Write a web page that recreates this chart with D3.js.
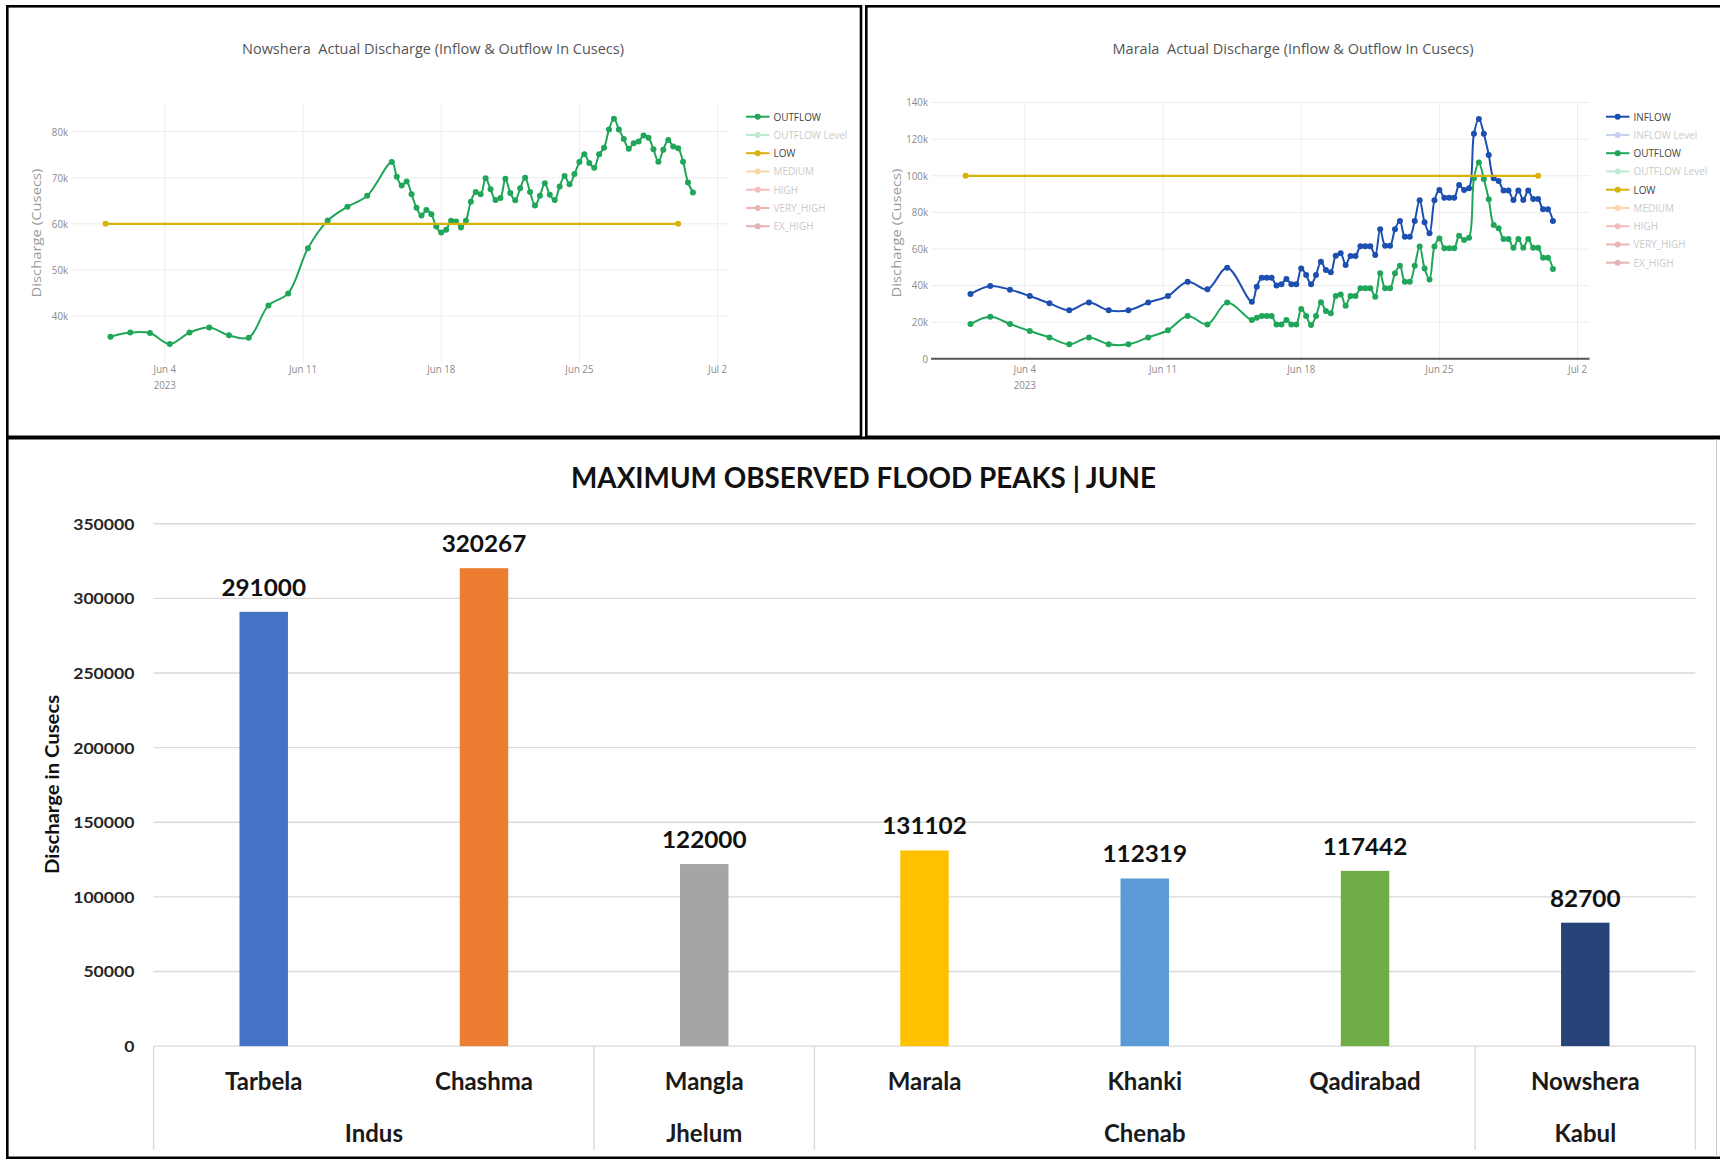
<!DOCTYPE html>
<html><head><meta charset="utf-8">
<script src="https://cdn.jsdelivr.net/npm/d3@7"></script>
<style>body{margin:0;background:#fff}svg{display:block}</style>
</head><body>
<svg id="c" width="1720" height="1160"></svg>
<script>
// ---------------- DATA ----------------
const xTickDates = ["2023-06-04T00:00:00Z","2023-06-11T00:00:00Z","2023-06-18T00:00:00Z","2023-06-25T00:00:00Z","2023-07-02T00:00:00Z"];
const xTickLabels = ["Jun 4","Jun 11","Jun 18","Jun 25","Jul 2"];
const dailyStart = "2023-06-01T06:00:00Z";   // one reading per day, Jun 1 – Jun 14
const sixHourStart = "2023-06-15T12:00:00Z"; // readings every 6 hours from Jun 15 12:00
const lowStart = "2023-06-01T00:00:00Z";
const lowEnd = "2023-06-30T00:00:00Z";

const nowsheraTitle = "Nowshera  Actual Discharge (Inflow & Outflow In Cusecs)";
const nowsheraYTicks = [40000, 50000, 60000, 70000, 80000];
const nowsheraLow = 60000;
const nowsheraOutflowDaily = [35500, 36400, 36300, 33900, 36400, 37500, 35800, 35300, 42300, 44900, 54700, 60700, 63700, 66100];
const nowsheraOutflow6h = [73400, 70200, 68300, 69200, 66400, 63500, 61800, 63000, 62100, 59400, 58100, 58700,
  60650, 60500, 59200, 60650, 64800, 66900, 66400, 69900, 67500, 65200, 65600, 69800, 66700, 65100, 67700, 70000,
  66900, 64000, 66100, 68800, 66300, 65200, 68100, 70400, 68600, 70800, 73400, 75100, 73200, 72200, 75100, 76500,
  80500, 82800, 80500, 78400, 76300, 77500, 77900, 79200, 78700, 76200, 73500, 76100, 78200, 76800, 76400, 73500,
  69000, 66800];
const nowsheraLegend = ["OUTFLOW", "OUTFLOW Level", "LOW", "MEDIUM", "HIGH", "VERY_HIGH", "EX_HIGH"];

const maralaTitle = "Marala  Actual Discharge (Inflow & Outflow In Cusecs)";
const maralaYTicks = [0, 20000, 40000, 60000, 80000, 100000, 120000, 140000];
const maralaLow = 100000;
const maralaInflowDaily = [35400, 39800, 37800, 34300, 30300, 26500, 30700, 26500, 26500, 30700, 34300, 42100, 38000, 49800];
const maralaInflow6h = [31200, 39400, 44300, 44300, 44300, 40000, 40700, 43600, 40700, 40700, 49400, 45800,
  40700, 45800, 53100, 48500, 47300, 56300, 57700, 51300, 56200, 56200, 61500, 61500, 61500, 56700, 70800, 61800,
  61800, 70800, 75300, 66700, 66700, 75300, 86600, 74600, 68600, 86600, 92200, 88000, 88000, 88000, 95000, 92200,
  93200, 123000, 131100, 123000, 111400, 98600, 97200, 91900, 91900, 86800, 91900, 86800, 91900, 87300, 87300, 81700,
  81700, 75300];
const maralaOutflowDaily = [19000, 23000, 19000, 15200, 11700, 7900, 11700, 7900, 7900, 11700, 15600, 23400, 18800, 30700];
const maralaOutflow6h = [21200, 22500, 23400, 23400, 23400, 18800, 18800, 21200, 18800, 18800, 27200, 23400,
  18500, 23400, 30900, 26100, 24900, 34300, 35200, 29000, 34300, 34300, 38500, 38500, 38500, 33900, 46700, 38500,
  38500, 46700, 50900, 42100, 42100, 50900, 61300, 49400, 43400, 61300, 65800, 60400, 60400, 60400, 67300, 64900,
  66200, 98600, 107200, 98300, 87200, 73100, 71300, 65500, 65500, 60700, 65500, 60700, 65500, 60700, 60700, 55200,
  55200, 49100];
const maralaLegend = ["INFLOW", "INFLOW Level", "OUTFLOW", "OUTFLOW Level", "LOW", "MEDIUM", "HIGH", "VERY_HIGH", "EX_HIGH"];

const barTitle = "MAXIMUM OBSERVED FLOOD PEAKS | JUNE";
const barStations = ["Tarbela", "Chashma", "Mangla", "Marala", "Khanki", "Qadirabad", "Nowshera"];
const barRivers = ["Indus", "Indus", "Jhelum", "Chenab", "Chenab", "Chenab", "Kabul"];
const barPeaks = [291000, 320267, 122000, 131102, 112319, 117442, 82700];
const barYTicks = [0, 50000, 100000, 150000, 200000, 250000, 300000, 350000];
const barYLabel = "Discharge in Cusecs";

// ---------------- STYLES ----------------
const legendStyle = {
  "INFLOW": {c: "#1d4fb0", on: true},
  "INFLOW Level": {c: "#7fa0dc", on: false},
  "OUTFLOW": {c: "#1fa659", on: true},
  "OUTFLOW Level": {c: "#6dd39a", on: false},
  "LOW": {c: "#d8b20c", on: true},
  "MEDIUM": {c: "#f2a64a", on: false},
  "HIGH": {c: "#ec6b6b", on: false},
  "VERY_HIGH": {c: "#d95b5b", on: false},
  "EX_HIGH": {c: "#c05a5a", on: false}
};
const barColors = ["#4472C4", "#ED7D31", "#A5A5A5", "#FFC000", "#5B9BD5", "#70AD47", "#264478"];

const svg = d3.select("#c");
svg.append("rect").attr("width", 1720).attr("height", 1160).attr("fill", "#fff");

function squeeze(sel, f) {
  sel.each(function () {
    const L = this.getComputedTextLength();
    this.setAttribute("textLength", L * f);
    this.setAttribute("lengthAdjust", "spacingAndGlyphs");
  });
}

const PF = "'Open Sans', 'DejaVu Sans', sans-serif";

function seriesPoints(daily, six) {
  const d0 = new Date(dailyStart).getTime(), s0 = new Date(sixHourStart).getTime();
  return daily.map((v, i) => [new Date(d0 + i * 864e5), v])
    .concat(six.map((v, i) => [new Date(s0 + i * 216e5), v]));
}

function lineChart(o) {
  const g = svg.append("g");
  const ox = o.ox;
  const x = d3.scaleUtc().domain([new Date(xTickDates[0]), new Date(xTickDates[xTickDates.length - 1])])
    .range([ox + 164.8, ox + 717.6]);
  const y = d3.scaleLinear().domain(o.yDom).range(o.yRng);
  const L = ox + 71, R = ox + 729.5, T = 103, B = 362.5;

  // title
  g.append("text").attr("x", ox + 433).attr("y", 53.5).attr("text-anchor", "middle")
    .attr("font-family", PF).attr("font-size", 15).attr("fill", "#555")
    .attr("textLength", o.titleLen).attr("lengthAdjust", "spacingAndGlyphs")
    .style("white-space", "pre").text(o.title);

  // grid
  g.selectAll(null).data(o.yTicks.filter(v => v !== 0)).join("line")
    .attr("x1", L).attr("x2", R).attr("y1", d => y(d)).attr("y2", d => y(d))
    .attr("stroke", "#ececec").attr("stroke-width", 1);
  g.selectAll(null).data(xTickDates).join("line")
    .attr("x1", d => x(new Date(d))).attr("x2", d => x(new Date(d))).attr("y1", T).attr("y2", B)
    .attr("stroke", "#ececec").attr("stroke-width", 1);
  if (o.yTicks.includes(0)) {
    g.append("line").attr("x1", L).attr("x2", R).attr("y1", y(0)).attr("y2", y(0))
      .attr("stroke", "#555").attr("stroke-width", 2);
  }

  // y tick labels
  const yt = g.selectAll(null).data(o.yTicks).join("text")
    .attr("x", L - 3).attr("y", d => y(d) + 3.8).attr("text-anchor", "end")
    .attr("font-family", PF).attr("font-size", 11).attr("fill", "#8a8a8a")
    .text(d => d3.format("~s")(d));
  squeeze(yt, 0.88);
  // x tick labels
  const xt = g.selectAll(null).data(xTickDates).join("text")
    .attr("x", d => x(new Date(d))).attr("y", 372.5).attr("text-anchor", "middle")
    .attr("font-family", PF).attr("font-size", 11).attr("fill", "#8a8a8a")
    .text((d, i) => xTickLabels[i]);
  squeeze(xt, 0.88);
  const yr = g.append("text").attr("x", x(new Date(xTickDates[0]))).attr("y", 389).attr("text-anchor", "middle")
    .attr("font-family", PF).attr("font-size", 11).attr("fill", "#8a8a8a")
    .text(new Date(xTickDates[0]).getUTCFullYear());
  squeeze(yr, 0.88);
  // y axis title
  g.append("text").attr("transform", `translate(${ox + 40.5},233) rotate(-90)`).attr("text-anchor", "middle")
    .attr("font-family", PF).attr("font-size", 12.5).attr("fill", "#9a9a9a")
    .attr("textLength", 129).attr("lengthAdjust", "spacingAndGlyphs")
    .text("Discharge (Cusecs)");

  // clip
  const cid = "clip" + ox;
  svg.append("clipPath").attr("id", cid).append("rect").attr("x", L).attr("y", T - 4).attr("width", R - L).attr("height", B - T + 8);
  const pg = g.append("g").attr("clip-path", `url(#${cid})`);

  const line = d3.line().x(d => x(d[0])).y(d => y(d[1])).curve(d3.curveCatmullRom.alpha(0.5));
  o.series.forEach(s => {
    const pts = seriesPoints(s.daily, s.six);
    pg.append("path").attr("d", line(pts)).attr("fill", "none").attr("stroke", s.color).attr("stroke-width", 2);
    pg.selectAll(null).data(pts).join("circle").attr("cx", d => x(d[0])).attr("cy", d => y(d[1]))
      .attr("r", 3).attr("fill", s.color);
  });
  // LOW level line
  const lowPts = [[new Date(lowStart), o.low], [new Date(lowEnd), o.low]];
  pg.append("path").attr("d", d3.line().x(d => x(d[0])).y(d => y(d[1]))(lowPts))
    .attr("stroke", legendStyle.LOW.c).attr("stroke-width", 2.2).attr("fill", "none");
  pg.selectAll(null).data(lowPts).join("circle").attr("cx", d => x(d[0])).attr("cy", d => y(d[1]))
    .attr("r", 3).attr("fill", legendStyle.LOW.c);

  // legend
  const lg = g.append("g");
  o.legend.forEach((name, i) => {
    const st = legendStyle[name];
    const yy = 116.7 + i * 18.25;
    const it = lg.append("g").attr("opacity", st.on ? 1 : 0.45);
    it.append("line").attr("x1", ox + 746).attr("x2", ox + 769.5).attr("y1", yy).attr("y2", yy)
      .attr("stroke", st.c).attr("stroke-width", 2);
    it.append("circle").attr("cx", ox + 757.7).attr("cy", yy).attr("r", 3).attr("fill", st.c);
    const t = it.append("text").attr("x", ox + 773.5).attr("y", yy + 4)
      .attr("font-family", PF).attr("font-size", 11).attr("fill", st.on ? "#444" : "#888")
      .text(name);
    squeeze(t, 0.9);
  });
}

lineChart({
  ox: 0, title: nowsheraTitle, titleLen: 382,
  yDom: [40000, 80000], yRng: [316, 131.7], yTicks: nowsheraYTicks, low: nowsheraLow,
  series: [{daily: nowsheraOutflowDaily, six: nowsheraOutflow6h, color: legendStyle.OUTFLOW.c}],
  legend: nowsheraLegend
});
lineChart({
  ox: 860, title: maralaTitle, titleLen: 361,
  yDom: [0, 100000], yRng: [358.8, 175.8], yTicks: maralaYTicks, low: maralaLow,
  series: [{daily: maralaInflowDaily, six: maralaInflow6h, color: legendStyle.INFLOW.c},
           {daily: maralaOutflowDaily, six: maralaOutflow6h, color: legendStyle.OUTFLOW.c}],
  legend: maralaLegend
});

// ---------------- BAR CHART ----------------
(function () {
  const BF = "Lato, 'Open Sans', sans-serif";
  const g = svg.append("g");
  const x = d3.scaleBand().domain(barStations).range([153.6, 1695.4]).paddingInner(0.78).paddingOuter(0.39);
  const y = d3.scaleLinear().domain([0, 350000]).range([1046.1, 523.8]);

  g.append("text").attr("x", 863.5).attr("y", 487.5).attr("text-anchor", "middle")
    .attr("font-family", BF).attr("font-weight", 700).attr("font-size", 29).attr("fill", "#111")
    .attr("textLength", 585).attr("lengthAdjust", "spacingAndGlyphs").text(barTitle);

  g.selectAll(null).data(barYTicks).join("line")
    .attr("x1", 153.6).attr("x2", 1695.4).attr("y1", d => y(d)).attr("y2", d => y(d))
    .attr("stroke", "#d9d9d9").attr("stroke-width", 1.4);
  g.selectAll(null).data(barYTicks).join("text")
    .attr("x", 134.4).attr("y", d => y(d) + 6).attr("text-anchor", "end")
    .attr("font-family", BF).attr("font-weight", 700).attr("font-size", 16).attr("fill", "#262626")
    .attr("textLength", d => String(d).length * 10.2).attr("lengthAdjust", "spacingAndGlyphs")
    .text(d => d);

  g.append("text").attr("transform", "translate(59,784.4) rotate(-90)").attr("text-anchor", "middle")
    .attr("font-family", BF).attr("font-weight", 700).attr("font-size", 19).attr("fill", "#111")
    .attr("textLength", 179).attr("lengthAdjust", "spacingAndGlyphs").text(barYLabel);

  g.selectAll(null).data(barStations).join("rect")
    .attr("x", d => x(d)).attr("width", x.bandwidth())
    .attr("y", (d, i) => y(barPeaks[i])).attr("height", (d, i) => y(0) - y(barPeaks[i]))
    .attr("fill", (d, i) => barColors[i]);

  g.selectAll(null).data(barStations).join("text")
    .attr("x", d => x(d) + x.bandwidth() / 2).attr("y", (d, i) => y(barPeaks[i]) - 16)
    .attr("text-anchor", "middle").attr("font-family", BF).attr("font-weight", 700).attr("font-size", 23)
    .attr("fill", "#111")
    .attr("textLength", (d, i) => String(barPeaks[i]).length * 14.1).attr("lengthAdjust", "spacingAndGlyphs")
    .text((d, i) => barPeaks[i]);

  g.selectAll(null).data(barStations).join("text")
    .attr("x", d => x(d) + x.bandwidth() / 2).attr("y", 1089.7).attr("text-anchor", "middle")
    .attr("font-family", BF).attr("font-weight", 700).attr("font-size", 24).attr("fill", "#1a1a1a")
    .text(d => d);

  // river groups
  const groups = [];
  barRivers.forEach((r, i) => {
    if (groups.length && groups[groups.length - 1].name === r) groups[groups.length - 1].end = i;
    else groups.push({name: r, start: i, end: i});
  });
  const x0 = x.range()[0], step = x.step();
  const bounds = [0].concat(groups.map(gr => gr.end + 1));
  g.selectAll(null).data(bounds).join("line")
    .attr("x1", b => x0 + b * step).attr("x2", b => x0 + b * step).attr("y1", y(0)).attr("y2", 1150)
    .attr("stroke", "#d9d9d9").attr("stroke-width", 1.4);
  g.selectAll(null).data(groups).join("text")
    .attr("x", gr => x0 + (gr.start + gr.end + 1) / 2 * step).attr("y", 1141.6).attr("text-anchor", "middle")
    .attr("font-family", BF).attr("font-weight", 700).attr("font-size", 24).attr("fill", "#1a1a1a")
    .text(gr => gr.name);
})();

// ---------------- PANEL BORDERS ----------------
svg.append("rect").attr("x", 7.3).attr("y", 6.3).attr("width", 853.7).attr("height", 430.5)
  .attr("fill", "none").attr("stroke", "#000").attr("stroke-width", 2.6);
svg.append("rect").attr("x", 866.3).attr("y", 6.3).attr("width", 860).attr("height", 430.5)
  .attr("fill", "none").attr("stroke", "#000").attr("stroke-width", 2.6);
svg.append("line").attr("x1", 6).attr("x2", 1720).attr("y1", 438).attr("y2", 438).attr("stroke", "#000").attr("stroke-width", 2.8);
svg.append("line").attr("x1", 7.3).attr("x2", 7.3).attr("y1", 437).attr("y2", 1158.5).attr("stroke", "#000").attr("stroke-width", 2.6);
svg.append("line").attr("x1", 6).attr("x2", 1720).attr("y1", 1157.8).attr("y2", 1157.8).attr("stroke", "#000").attr("stroke-width", 2.4);
svg.append("line").attr("x1", 1716.5).attr("x2", 1716.5).attr("y1", 439).attr("y2", 1157).attr("stroke", "#c8c8c8").attr("stroke-width", 1);
</script>
</body></html>
